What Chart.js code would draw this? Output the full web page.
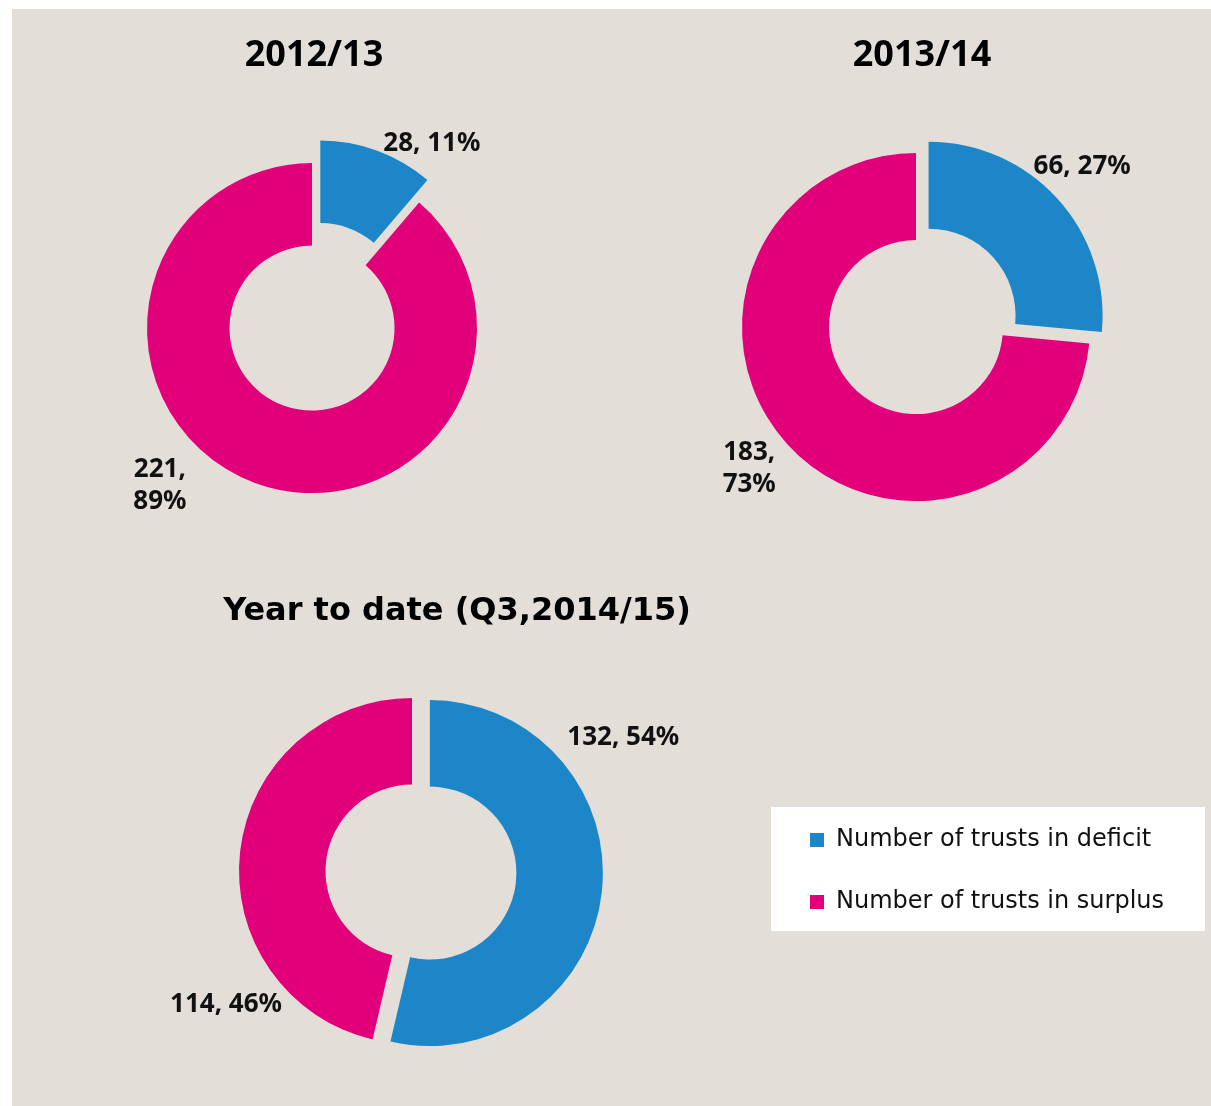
<!DOCTYPE html>
<html>
<head>
<meta charset="utf-8">
<script src="https://cdn.jsdelivr.net/npm/chart.js@4.4.1/dist/chart.umd.min.js"></script>
<style>
  html, body { margin: 0; padding: 0; background: #fff; }
  #page { position: relative; width: 1211px; height: 1106px; overflow: hidden; }
  #panel { position: absolute; left: 12px; top: 9px; width: 1199px; height: 1097px; background: #e3dfd8; }
  #legend-bg { position: absolute; left: 771px; top: 807px; width: 434px; height: 124px; background: #fff; }
  canvas { position: absolute; }
  #chart-1 { left: 12px; top: 9px; }
  #chart-2 { left: 622px; top: 9px; }
  #chart-3 { left: 12px; top: 560px; }
</style>
</head>
<body>
<div id="page">
  <div id="panel"></div>
  <div id="legend-bg"></div>
  <canvas id="chart-1" width="600" height="560"></canvas>
  <canvas id="chart-2" width="588" height="558"></canvas>
  <canvas id="chart-3" width="1198" height="545"></canvas>
</div>
<script>
// Data
const categories = ['Number of trusts in deficit', 'Number of trusts in surplus'];
const periods = ['2012/13', '2013/14', 'Year to date (Q3,2014/15)'];
const deficit = [28, 66, 132];
const surplus = [221, 183, 114];

const colors = ['#1c86c8', '#e2007a'];

// Per chart layout (sizes, explode distance, label placement)
const panels = [
    {
        id: 'chart-1', radius: 165, explode: [24, 0],
        titleFont: { family: 'Noto Sans', size: 36, weight: 'bold', lineHeight: 1.2 },
        titlePadding: { top: 25, bottom: 10 },
        titleShift: 2,
        padding: 0,
        legend: false,
        labels: [{ angle: 33, dist: 220 }, { angle: 224, dist: 219, wrap: true }]
    },
    {
        id: 'chart-2', radius: 174, explode: [17, 0],
        titleFont: { family: 'Noto Sans', size: 36, weight: 'bold', lineHeight: 1.2 },
        titlePadding: { top: 25, bottom: 10 },
        titleShift: 6,
        padding: 0,
        legend: false,
        labels: [{ angle: 46, dist: 231 }, { angle: 229.6, dist: 219, wrap: true }]
    },
    {
        id: 'chart-3', radius: 173, explode: [18, 0],
        titleFont: { family: 'DejaVu Sans', size: 32, weight: 'bold', lineHeight: 1.2 },
        titlePadding: { top: 32, bottom: 10 },
        titleShift: 45,
        padding: { left: 40, right: 42, top: 0, bottom: 3.4 },
        legend: true,
        labels: [{ angle: 57.7, dist: 250 }, { angle: 234.3, dist: 229 }]
    }
];

// draw the slices ourselves so an exploded slice moves as a whole
const explodePlugin = {
    id: 'explode',
    beforeDatasetDraw(chart, args, opts) {
        const ctx = chart.ctx;
        args.meta.data.forEach((arc, i) => {
            const d = opts.distances[i] || 0;
            const mid = (arc.startAngle + arc.endAngle) / 2;
            ctx.save();
            ctx.translate(Math.cos(mid) * d, Math.sin(mid) * d);
            arc.draw(ctx);
            ctx.restore();
        });
        return false;
    }
};

// "value, pct%" labels outside the ring
const arcLabelPlugin = {
    id: 'arcLabels',
    afterDatasetsDraw(chart, args, opts) {
        const ctx = chart.ctx;
        const values = chart.data.datasets[0].data;
        const total = values.reduce((a, b) => a + b, 0);
        const meta = chart.getDatasetMeta(0);
        ctx.save();
        ctx.font = 'bold 26px "Noto Sans"';
        ctx.fillStyle = '#111';
        ctx.textAlign = 'center';
        ctx.textBaseline = 'middle';
        meta.data.forEach((arc, i) => {
            const place = opts.places[i];
            const a = (place.angle - 90) * Math.PI / 180;
            const x = arc.x + Math.cos(a) * place.dist;
            const y = arc.y + Math.sin(a) * place.dist;
            const pct = Math.round(values[i] / total * 100);
            const lines = place.wrap
                ? [values[i] + ',', pct + '%']
                : [values[i] + ', ' + pct + '%'];
            const step = 32;
            const y0 = y - (lines.length - 1) * step / 2;
            lines.forEach((line, j) => ctx.fillText(line, x, y0 + j * step));
        });
        ctx.restore();
    }
};

// nudge the title sideways, Excel does not centre it on the ring
const titleShiftPlugin = {
    id: 'titleShift',
    afterLayout(chart, args, opts) {
        const t = chart.titleBlock;
        if (t && opts.dx) {
            t.left += opts.dx;
            t.right += opts.dx;
        }
    }
};

panels.forEach((p, k) => {
    const ctx = document.getElementById(p.id).getContext('2d');
    new Chart(ctx, {
        type: 'doughnut',
        data: {
            labels: categories,
            datasets: [{
                data: [deficit[k], surplus[k]],
                backgroundColor: colors,
                borderWidth: 0,
                hoverOffset: 0,
                radius: p.radius,
                cutout: '50%'
            }]
        },
        options: {
            responsive: false,
            animation: false,
            events: [],
            layout: { padding: p.padding },
            plugins: {
                title: {
                    display: true,
                    text: periods[k],
                    color: '#000',
                    fullSize: false,
                    font: p.titleFont,
                    padding: p.titlePadding
                },
                legend: {
                    display: p.legend,
                    position: 'right',
                    fullSize: false,
                    maxWidth: 396,
                    labels: {
                        boxWidth: 14,
                        boxHeight: 14,
                        padding: 38,
                        color: '#111',
                        font: { family: 'DejaVu Sans', size: 24 }
                    }
                },
                tooltip: { enabled: false },
                explode: { distances: p.explode },
                arcLabels: { places: p.labels },
                titleShift: { dx: p.titleShift }
            }
        },
        plugins: [explodePlugin, arcLabelPlugin, titleShiftPlugin]
    });
});
</script>
</body>
</html>
